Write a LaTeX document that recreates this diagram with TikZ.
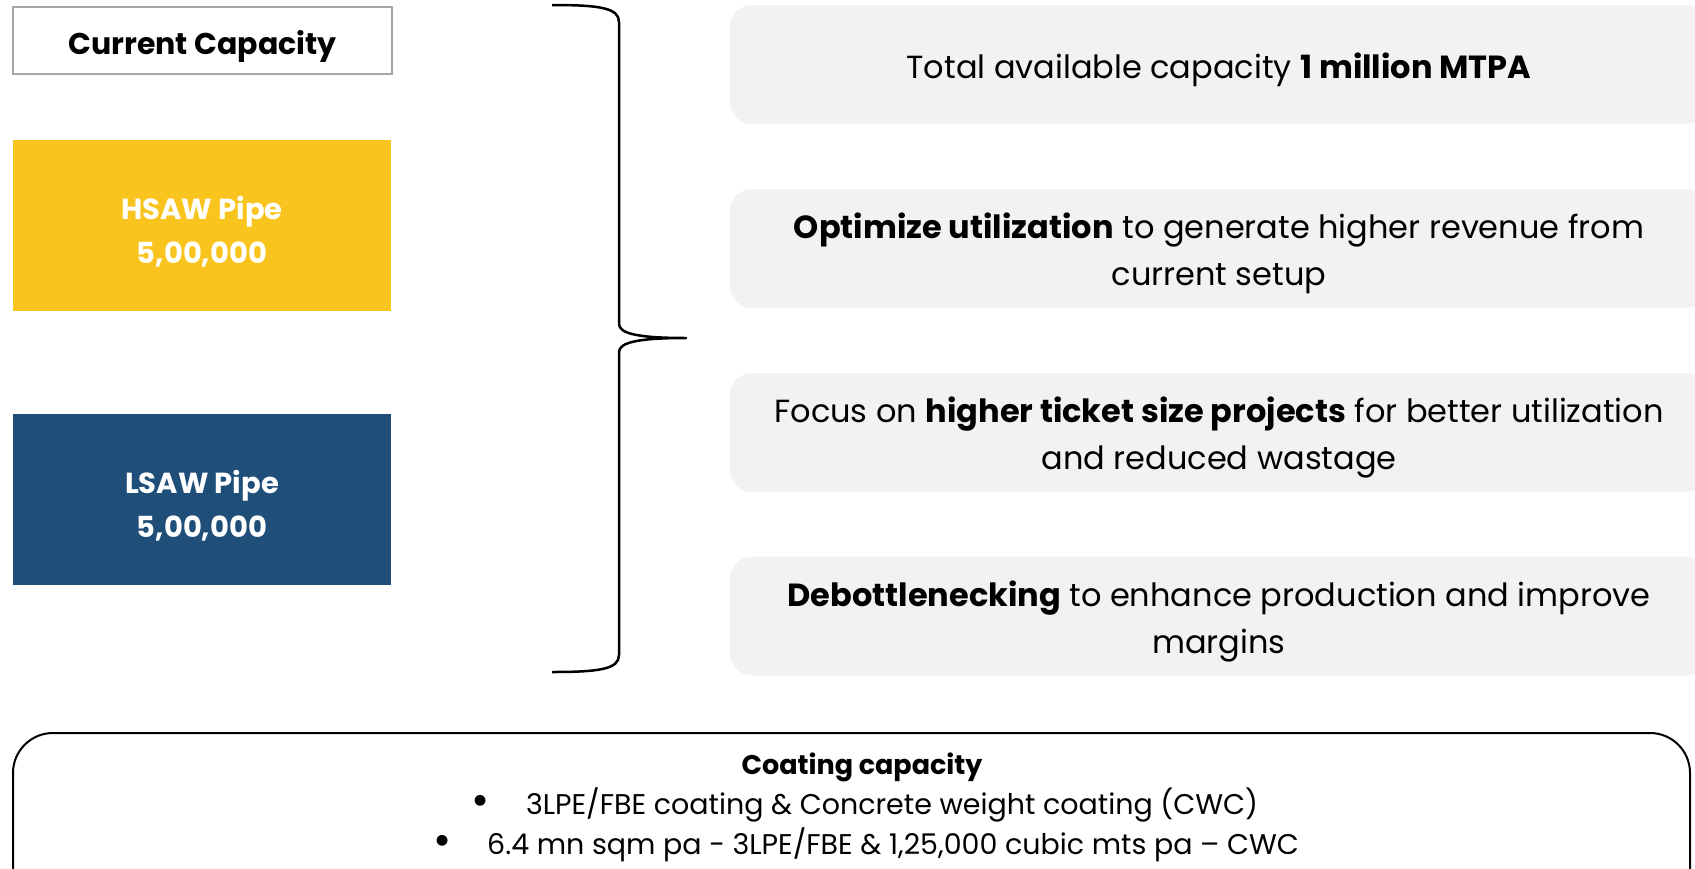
\documentclass[tikz,border=0pt]{standalone}
\usepackage{fontspec}
\setmainfont{Poppins}
\definecolor{hsawc}{HTML}{F9C41E}
\definecolor{lsawc}{HTML}{1F4E79}
\definecolor{panel}{HTML}{F2F2F2}
\definecolor{frame}{HTML}{A6A6A6}
\newcommand{\bigbul}{{\fontsize{44}{34}\selectfont\raisebox{-1pt}{\textbullet}}}
\begin{document}
\begin{tikzpicture}[x=1pt,y=-1pt,
  capbox/.style={draw=frame,line width=1.5pt,fill=white,minimum width=379pt,minimum height=67pt,inner sep=0pt},
  captext/.style={inner sep=0pt,font=\fontsize{30}{36}\selectfont\bfseries},
  pipebox/.style={minimum width=378pt,minimum height=171pt,inner sep=0pt},
  pipetext/.style={inner sep=0pt,align=center,text=white,font=\fontsize{29}{44}\selectfont\bfseries},
  infobox/.style={fill=panel,rounded corners=22pt,minimum width=978pt,minimum height=119pt,inner sep=0pt},
  infotext/.style={align=center,inner sep=0pt,font=\fontsize{32}{47}\selectfont},
  brace/.style={line width=2.5pt,line join=round},
  coattext/.style={inner sep=0pt,anchor=center,font=\fontsize{28.5}{34}\selectfont}
]
\useasboundingbox (0,0) rectangle (1695,868);
\begin{scope}
\clip (0,0) rectangle (1695,868);
\node[capbox] (cap) at (202.5,40.5) {};
\node[captext] (capt) at ([yshift=-6pt]cap.center) {Current Capacity};
\node[pipebox,fill=hsawc] (hsaw) at (202,225.5) {};
\node[pipetext] (hsawt) at ([yshift=-6pt]hsaw.center) {HSAW Pipe\\5,00,000};
\node[pipebox,fill=lsawc] (lsaw) at (202,499.5) {};
\node[pipetext] (lsawt) at ([yshift=-6pt]lsaw.center) {LSAW Pipe\\5,00,000};

\node[infobox] (b1) at (1219,64.5) {};
\node[infobox] (b2) at (1219,248.5) {};
\node[infobox] (b3) at (1219,432.5) {};
\node[infobox] (b4) at (1219,616) {};
\node[infotext] (t1) at ([yshift=-5pt]b1.center) {Total available capacity \textbf{1 million MTPA}};
\node[infotext] (t2) at ([yshift=-5pt]b2.center) {\textbf{Optimize utilization} to generate higher revenue from\\current setup};
\node[infotext] (t3) at ([yshift=-5pt]b3.center) {Focus on \textbf{higher ticket size projects} for better utilization\\and reduced wastage};
\node[infotext] (t4) at ([yshift=-5pt]b4.center) {\textbf{Debottlenecking} to enhance production and improve\\margins};

\coordinate (bt) at (552,5);
\coordinate (bm) at (686,338);
\coordinate (bb) at (552,672);
\draw[brace] (bt) .. controls (600,5) and (619,8) .. (619,22)
  -- (619,324) .. controls (619,334) and (640,338) .. (bm)
  .. controls (640,338) and (619,342) .. (619,352)
  -- (619,655) .. controls (619,669) and (600,672) .. (bb);

\draw[line width=2pt,rounded corners=40pt] (13,900) -- (13,733) -- (1690,733) -- (1690,900);
\node[coattext,font=\fontsize{27}{34}\selectfont\bfseries] (ct) at (862,767) {Coating capacity};
\node[coattext] (c1) at (865,805) {\bigbul\hspace{36pt}3LPE/FBE coating \& Concrete weight coating (CWC)};
\node[coattext] (c2) at (866,845) {\bigbul\hspace{36pt}6.4 mn sqm pa - 3LPE/FBE \& 1,25,000 cubic mts pa – CWC};
\end{scope}
\end{tikzpicture}
\end{document}
